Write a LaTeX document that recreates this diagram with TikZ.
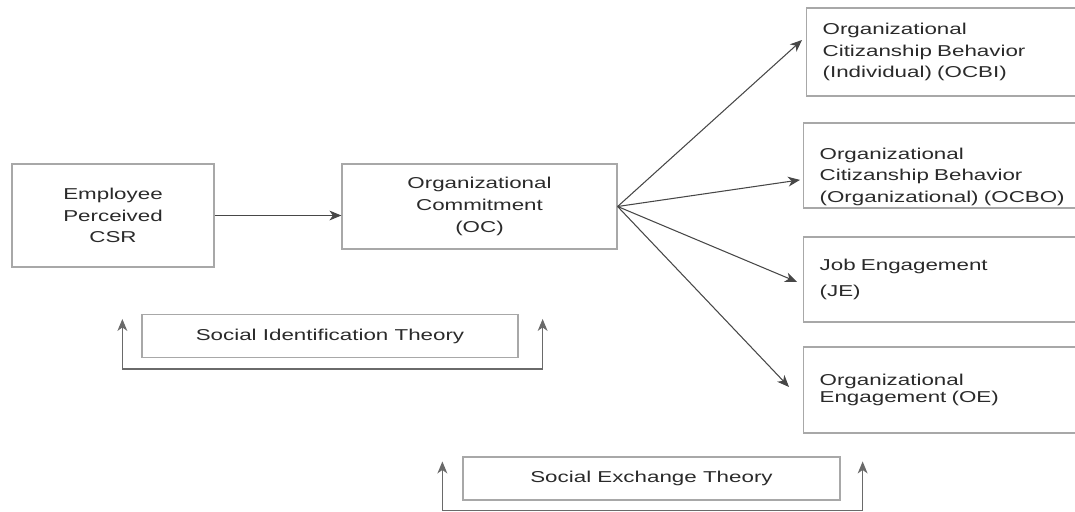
\documentclass[tikz,border=0pt]{standalone}
\usepackage{fontspec}
\setmainfont{Liberation Sans}[FakeStretch=1.42]
\usetikzlibrary{arrows.meta}
\definecolor{boxgray}{HTML}{A8A8A8}
\definecolor{linegray}{HTML}{474747}
\definecolor{brackgray}{HTML}{6A6A6A}
\definecolor{textgray}{HTML}{2A2A2A}
\tikzset{
  box/.style={draw=boxgray,line width=0.9pt,inner sep=0pt,text=textgray},
  outbox/.style={box,anchor=west,align=left,text width=6.6cm,inner xsep=0.4cm,minimum height=2.15cm},
  theorybox/.style={box,align=center,minimum height=1.07cm}
}
\begin{document}
\begin{tikzpicture}[>={Stealth[length=8.5pt,width=7pt,inset=2.5pt]},font=\fontsize{11.2}{15.5}\selectfont]
      \clip (0,0) rectangle (26.875,12.775);
      \path[align=center]
        (2.825, 7.3875) node[box,minimum width=5.05cm,minimum height=2.575cm] (0){Employee\\Perceived\\CSR}
        (11.9875, 7.6125) node[box,minimum width=6.875cm,minimum height=2.125cm] (1){Organizational\\Commitment\\(OC)}
        (20.15, 11.475) node[outbox,minimum height=2.2cm] (2){Organizational\\Citizanship Behavior\\(Individual) (OCBI)}
        (20.075, 8.6375) node[outbox,minimum height=2.125cm] (3){\rule{0pt}{0.85cm}Organizational\\Citizanship Behavior\\(Organizational) (OCBO)}
        (20.075, 5.7875) node[outbox,minimum height=2.125cm] (4){Job Engagement\\[3.5pt](JE)}
        (20.075, 3.025) node[outbox] (5){Organizational\\[-4pt]Engagement (OE)}
        (8.25, 4.375) node[theorybox,minimum width=9.4cm] (6){Social Identification Theory}
        (16.2875, 0.8125) node[theorybox,minimum width=9.425cm] (7){Social Exchange Theory};
      \begin{scope}[->,draw=linegray,line width=0.75pt]
        \draw (0.east) -- (0.east -| 1.west);
        \draw (1.east) -- ([xshift=-0.1cm,yshift=0.3cm]2.west);
        \draw (1.east) -- ([xshift=-0.075cm,yshift=-0.36cm]3.west);
        \draw (1.east) -- ([xshift=-0.15cm,yshift=-0.06cm]4.west);
        \draw (1.east) -- ([xshift=-0.35cm,yshift=0.075cm]5.west);
      \end{scope}
      \begin{scope}[<->,draw=brackgray,line width=0.9pt]
        \draw ([xshift=-0.475cm,yshift=-0.125cm]6.north west) |- ([yshift=-0.275cm]6.south) -| ([xshift=0.6cm,yshift=-0.125cm]6.north east);
        \draw ([xshift=-0.5cm,yshift=-0.125cm]7.north west) |- ([yshift=-0.25cm]7.south) -| ([xshift=0.55cm,yshift=-0.125cm]7.north east);
      \end{scope}
    \end{tikzpicture}
\end{document}
